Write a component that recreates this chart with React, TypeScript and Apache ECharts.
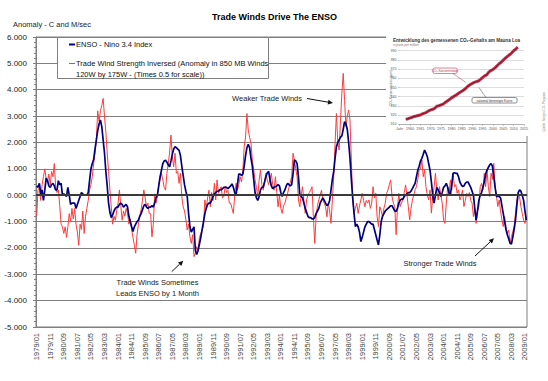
import React, { useEffect, useRef } from "react";
import * as echarts from "echarts";

const FONT = "'Liberation Sans', Arial, sans-serif";

const START_YEAR = 1979;
const MONTH_COUNT = 362;
const CATEGORIES: string[] = [];
for (let i = 0; i < MONTH_COUNT; i++) {
  const y = START_YEAR + Math.floor(i / 12);
  const m = (i % 12) + 1;
  CATEGORIES.push(`${y}/${m < 10 ? "0" + m : m}`);
}

// ENSO - Nino 3.4 Index, monthly 1979/01 .. 2009/02
const ENSO_NINO34 = [
  0.35, 0.3, 0.45, 0.05, 0.2, -0.2, 0.2, 0.65, 0.55, 0.35, 0.3, 0.4,
  0.45, 0.35, 0.2, 0.2, 0.55, 0.4, 0.45, 0.0, 0.05, 0.0, -0.05, 0.3,
  0.0, -0.35, -0.3, -0.3, -0.3, -0.5, -0.35, -0.2, -0.05, 0.1, 0.05, 0.0,
  0.0, 0.0, 0.1, 0.55, 1.0, 1.2, 1.35, 1.75, 2.1, 2.45, 2.7, 2.85,
  2.6, 2.1, 1.6, 0.9, 0.35, -0.3, -0.65, -0.85, -0.75, -0.6, -0.5, -0.45,
  -0.45, -0.35, -0.3, -0.35, -0.45, -0.4, -0.35, -0.45, -0.8, -1.0, -1.2, -1.38,
  -1.2, -1.1, -1.0, -0.95, -0.8, -0.7, -0.55, -0.4, -0.35, -0.45, -0.5, -0.45,
  -0.45, -0.4, -0.45, -0.3, -0.1, 0.0, 0.35, 0.7, 0.95, 1.2, 1.3, 1.33,
  1.25, 1.15, 1.08, 1.3, 1.55, 1.75, 1.84, 1.8, 1.75, 1.7, 1.5, 1.1,
  0.75, 0.4, 0.15, -0.05, -0.7, -1.2, -1.4, -1.3, -1.2, -2.1, -2.25, -2.1,
  -1.85, -1.6, -1.3, -1.0, -0.7, -0.5, -0.35, -0.3, -0.3, -0.2, -0.05, 0.05,
  0.1, 0.15, 0.15, 0.2, 0.2, 0.25, 0.3, 0.3, 0.3, 0.25, 0.3, 0.35,
  0.43, 0.3, 0.1, 0.0, 0.4, 0.8, 0.8, 0.75, 0.8, 1.1, 1.5, 1.8,
  1.93, 1.8, 1.4, 1.1, 0.6, 0.1, -0.1, -0.2, -0.05, 0.2, 0.3, 0.3,
  0.5, 0.7, 0.85, 0.9, 0.6, 0.35, 0.25, 0.3, 0.32, 0.35, 0.4, 0.35,
  0.1, -0.05, 0.1, 0.2, 0.35, 0.45, 0.4, 0.35, 0.4, 0.8, 1.34, 1.3,
  1.2, 0.7, 0.0, -0.05, -0.1, -0.3, -0.5, -0.65, -0.8, -0.85, -0.85, -0.9,
  -0.9, -0.85, -0.7, -0.6, -0.5, -0.3, -0.2, -0.1, -0.2, -0.3, -0.4, -0.35,
  -0.2, 0.2, 0.6, 0.9, 1.4, 1.84, 2.0, 2.1, 2.2, 2.25, 2.5, 2.79,
  2.7, 2.5, 2.0, 1.4, 0.6, -0.1, -0.7, -1.19, -1.1, -1.2, -1.4, -1.76,
  -1.6, -1.4, -1.2, -1.1, -1.0, -1.0, -1.05, -1.1, -1.1, -1.3, -1.5, -1.7,
  -1.89, -1.5, -1.0, -0.8, -0.7, -0.6, -0.55, -0.5, -0.45, -0.4, -0.4, -0.5,
  -0.6, -0.62, -0.5, -0.3, -0.2, -0.15, -0.15, -0.05, 0.0, 0.05, 0.1, 0.1,
  0.15, 0.25, 0.35, 0.45, 0.7, 0.95, 1.1, 1.3, 1.4, 1.55, 1.71, 1.6,
  1.46, 1.2, 0.95, 0.5, 0.0, -0.3, 0.0, 0.3, 0.2, 0.1, -0.05, 0.1,
  0.3, 0.35, 0.45, 0.3, 0.1, 0.0, 0.4, 0.83, 0.85, 0.83, 0.83, 0.7,
  0.5, 0.4, 0.33, 0.35, 0.45, 0.5, 0.5, 0.4, 0.3, 0.15, 0.0, -0.5,
  -0.95, -0.6, -0.2, 0.0, 0.1, 0.3, 0.5, 0.8, 0.95, 1.05, 1.15, 1.2,
  1.1, 0.7, 0.3, -0.05, -0.05, -0.05, -0.1, -0.4, -0.7, -1.0, -1.3, -1.5,
  -1.65, -1.82, -1.85, -1.6, -1.3, -0.95, -0.4, 0.1, 0.2, 0.15, 0.0, -0.2,
  -0.6, -0.95,
];

// Trade wind strength inversed (850 MB anomaly x 0.5), monthly 1979/01 .. 2009/02
const TRADE_WIND_INV = [
  -0.8, 0.2, 0.3, -0.2, 0.4, 0.7, 1.0, 0.6, 0.5, 0.8, 0.4, 0.9,
  0.7, 1.2, 0.3, 0.1, 0.2, -0.4, -1.1, -1.2, -1.45, -1.2, -1.6, -1.2,
  -0.7, -1.0, -0.5, -0.9, -0.5, -1.1, -1.4, -1.9, -1.1, -1.3, -0.6, -1.45,
  -0.8, -0.5, -0.2, 0.2, 0.4, 0.7, 1.2, 1.6, 2.1, 3.2, 2.8, 3.2,
  3.4, 3.67, 3.0, 2.4, 1.6, 0.9, 0.2, -0.45, -1.1, -0.8, -0.95, -0.6,
  -0.3, 0.2, -0.4, -0.95, -0.6, -0.8, -0.5, -0.7, -1.1, -0.9, -1.3, -1.6,
  -1.9, -2.2, -1.5, -1.1, -0.8, -0.55, -0.2, 0.2, -0.1, -0.45, -0.3, -0.7,
  -0.7, -1.58, -1.1, 0.05, -0.3, -0.05, 0.4, 0.6, 0.83, 0.58, 0.3, 0.19,
  0.83, 1.2, 1.6, 2.28, 1.46, 1.08, 1.59, 0.83, 0.9, 0.45, 0.83, -0.05,
  -0.44, -0.6, -0.94, -1.32, -1.1, -1.58, -1.83, -1.5, -2.33, -2.2, -1.95, -2.1,
  -1.6, -1.45, -1.3, -1.19, -0.18, -0.5, -0.1, 0.19, -0.44, 0.1, -0.2, 0.45,
  -0.18, 0.58, 0.07, 0.2, 0.32, -0.1, -0.05, 0.35, 0.1, 0.19, -0.3, -0.3,
  -0.5, -0.69, 0.0, 0.45, 0.19, 0.4, 0.7, 0.5, 0.95, 1.84, 2.2, 3.1,
  2.47, 2.2, 1.97, 1.33, 0.95, 0.58, 0.3, -0.05, 0.58, 0.95, 0.4, 0.19,
  0.5, 0.83, 0.58, 0.4, 0.6, 0.83, 0.4, 0.19, 0.7, 0.1, -0.44, 0.0,
  -0.5, -0.69, -0.4, -0.3, -0.1, 0.07, 0.3, 0.5, 0.7, 1.59, 1.33, 1.0,
  0.7, -0.18, -0.44, 0.0, 0.32, -0.2, -0.69, -0.18, 0.0, 0.1, 0.19, 0.32,
  -0.82, -1.83, -0.82, -0.4, -0.18, 0.0, 0.19, -0.18, -0.3, -0.44, -0.82, -0.3,
  -0.6, -1.07, -0.18, 0.7, 1.97, 3.1, 2.0, 1.71, 2.85, 3.86, 4.62, 3.6,
  2.6, 3.0, 3.23, 2.85, 1.33, -0.18, -0.69, -0.5, -0.3, -0.69, -0.4, -0.18,
  0.07, -0.2, -0.44, -0.2, -0.3, -0.18, -0.5, -0.3, 0.32, -0.1, 0.07, -0.82,
  -1.19, -0.44, -0.6, -0.82, -0.5, -0.3, 0.07, 0.2, 0.4, 0.58, -0.05, -0.3,
  -0.44, -1.5, -0.5, 0.07, -0.43, -0.3, -0.18, 0.1, 0.39, 0.0, -0.43, -0.94,
  -0.5, -0.18, 0.0, 0.2, 0.32, 0.6, 0.95, 1.0, 1.33, 0.7, 0.95, 0.32,
  0.0, -0.18, 0.2, -0.68, -0.05, 0.3, 0.83, 0.2, -0.18, 0.32, 0.0, -0.3,
  -0.94, -1.07, -0.3, 0.32, 0.0, 0.58, 0.2, 0.83, 0.32, 0.4, 0.07, 0.2,
  -0.18, -0.05, 0.2, -0.43, -0.2, 0.07, -0.05, 0.1, -0.2, -0.3, -0.81, -0.5,
  -1.07, -0.6, -0.43, 0.32, 0.45, 0.2, 0.83, 0.32, 0.95, 0.32, -0.05, 0.83,
  0.6, 1.21, 0.32, -0.05, -0.43, -0.18, -0.6, -0.94, -1.19, -0.81, -1.2, -1.45,
  -1.32, -1.83, -1.57, -1.4, -1.19, -0.68, -0.18, 0.07, -0.05, -0.43, -0.7, -0.94,
  -1.07, -0.81,
];

// Inset: Mauna Loa CO2 (annual mean, ppm)
const CO2_YEARS = [
  1958, 1959, 1960, 1961, 1962, 1963, 1964, 1965, 1966, 1967, 1968, 1969,
  1970, 1971, 1972, 1973, 1974, 1975, 1976, 1977, 1978, 1979, 1980, 1981,
  1982, 1983, 1984, 1985, 1986, 1987, 1988, 1989, 1990, 1991, 1992, 1993,
  1994, 1995, 1996, 1997, 1998, 1999, 2000, 2001, 2002, 2003, 2004, 2005,
  2006, 2007, 2008, 2009, 2010, 2011, 2012,
];
const CO2_PPM = [
  315.3, 316.0, 316.9, 317.6, 318.5, 319.0, 319.6, 320.0, 321.4, 322.2, 323.0, 324.6,
  325.7, 326.3, 327.5, 329.7, 330.2, 331.1, 332.0, 333.8, 335.4, 336.8, 338.7, 340.1,
  341.4, 343.0, 344.6, 346.0, 347.4, 349.2, 351.6, 353.1, 354.4, 355.6, 356.4, 357.1,
  358.8, 360.8, 362.6, 363.7, 366.7, 368.4, 369.6, 371.3, 373.5, 375.8, 377.5, 379.8,
  381.9, 383.8, 385.6, 387.4, 389.9, 391.6, 393.9,
];

const BLUE = "#000080";
const RED = "#ff3b3b";
const GRID_GREY = "#7f7f7f";

function txt(x: number, y: number, text: string, extra: any = {}, z = 20) {
  return {
    type: "text",
    z,
    x,
    y,
    silent: true,
    style: {
      text,
      fontSize: 7.5,
      fontFamily: FONT,
      fill: "#222",
      verticalAlign: "middle",
      textAlign: "left",
      ...extra,
    },
  };
}

function arrow(x1: number, y1: number, x2: number, y2: number) {
  const dx = x2 - x1;
  const dy = y2 - y1;
  const len = Math.sqrt(dx * dx + dy * dy);
  const ux = dx / len;
  const uy = dy / len;
  const hl = 5;
  const hw = 2.4;
  const bx = x2 - ux * hl;
  const by = y2 - uy * hl;
  return [
    {
      type: "line",
      z: 20,
      silent: true,
      shape: { x1, y1, x2: bx, y2: by },
      style: { stroke: "#111", lineWidth: 1 },
    },
    {
      type: "polygon",
      z: 20,
      silent: true,
      shape: {
        points: [
          [x2, y2],
          [bx - uy * hw, by + ux * hw],
          [bx + uy * hw, by - ux * hw],
        ],
      },
      style: { fill: "#111" },
    },
  ];
}

export default function App() {
  const ref = useRef<HTMLDivElement>(null);

  useEffect(() => {
    if (!ref.current) return;
    const chart = echarts.init(ref.current, undefined, { renderer: "svg" });

    const co2Data = CO2_YEARS.map((y, i) => [y, CO2_PPM[i]]);

    const option: any = {
      animation: false,
      backgroundColor: "#ffffff",
      title: {
        text: "Trade Winds Drive The ENSO",
        left: 207,
        top: 7,
        textStyle: { fontFamily: FONT, fontSize: 9, fontWeight: "bold", color: "#000" },
      },
      grid: [
        { left: 36, right: 21, top: 37, bottom: 54, show: true, borderColor: GRID_GREY, borderWidth: 1 },
        { left: 399.6, right: 24, top: 50.7, bottom: 256.7 },
      ],
      xAxis: [
        {
          type: "category",
          gridIndex: 0,
          data: CATEGORIES,
          boundaryGap: true,
          axisLine: { show: true, lineStyle: { color: GRID_GREY } },
          axisTick: { show: false },
          splitLine: { show: false },
          axisLabel: {
            interval: 9,
            rotate: 90,
            fontSize: 7.5,
            color: "#444",
            margin: 6,
            fontFamily: FONT,
          },
        },
        {
          type: "value",
          gridIndex: 1,
          min: 1955,
          max: 2015,
          interval: 5,
          z: 3,
          axisLine: { show: true, lineStyle: { color: "#888", width: 0.5 } },
          axisTick: { show: true, length: 1.5, lineStyle: { color: "#888", width: 0.5 } },
          splitLine: { show: false },
          axisLabel: {
            fontSize: 3.6,
            color: "#555",
            margin: 2.5,
            fontFamily: FONT,
            formatter: (v: number) => (v === 1955 ? "Jahr" : String(v)),
          },
        },
      ],
      yAxis: [
        {
          type: "value",
          gridIndex: 0,
          min: -5,
          max: 6,
          interval: 1,
          axisLine: { show: true, lineStyle: { color: GRID_GREY } },
          axisTick: { show: true, length: 3, lineStyle: { color: GRID_GREY } },
          minorTick: { show: true, splitNumber: 5, length: 2, lineStyle: { color: GRID_GREY } },
          splitLine: { show: true, lineStyle: { color: GRID_GREY, width: 1 } },
          axisLabel: {
            fontSize: 8,
            color: "#222",
            margin: 9,
            fontFamily: FONT,
            formatter: (v: number) => v.toFixed(3),
          },
        },
        {
          type: "value",
          gridIndex: 1,
          min: 310,
          max: 390,
          interval: 10,
          z: 3,
          axisLine: { show: false },
          axisTick: { show: true, length: 1.5, lineStyle: { color: "#888", width: 0.5 } },
          splitLine: { show: true, lineStyle: { color: "#bbb", width: 0.5 } },
          axisLabel: { fontSize: 3.6, color: "#555", margin: 3, fontFamily: FONT },
        },
      ],
      series: [
        {
          name: "Trade Wind Strength Inversed",
          type: "line",
          xAxisIndex: 0,
          yAxisIndex: 0,
          data: TRADE_WIND_INV,
          showSymbol: false,
          symbol: "none",
          lineStyle: { color: RED, width: 1 },
          z: 2,
          markLine: {
            silent: true,
            symbol: "none",
            label: { show: false },
            lineStyle: { color: "#3a3a3a", width: 2, type: "solid" },
            data: [{ yAxis: 0 }],
          },
        },
        {
          name: "ENSO - Nino 3.4 Index",
          type: "line",
          xAxisIndex: 0,
          yAxisIndex: 0,
          data: ENSO_NINO34,
          showSymbol: false,
          symbol: "none",
          lineStyle: { color: BLUE, width: 1.7 },
          z: 3,
        },
        {
          name: "CO2",
          type: "line",
          xAxisIndex: 1,
          yAxisIndex: 1,
          data: co2Data,
          showSymbol: false,
          symbol: "none",
          clip: false,
          lineStyle: { color: "#c8304a", width: 3 },
          z: 6,
        },
        {
          name: "CO2 trend",
          type: "line",
          xAxisIndex: 1,
          yAxisIndex: 1,
          data: co2Data,
          showSymbol: false,
          symbol: "none",
          clip: false,
          lineStyle: { color: "#4a1020", width: 0.7 },
          z: 7,
        },
      ],
      graphic: {
        elements: [
          // inset background (pasted image area)
          {
            type: "rect",
            z: 1,
            silent: true,
            shape: { x: 386, y: 31, width: 162, height: 105 },
            style: { fill: "#ffffff" },
          },
          txt(393, 40, "Entwicklung des gemessenen CO\u2082-Gehalts am Mauna Loa", { fontSize: 4.6, fontWeight: "bold", fill: "#333" }),
          txt(393, 44.3, "in parts per million", { fontSize: 3.2, fill: "#777" }),
          {
            type: "text",
            z: 20,
            x: 391,
            y: 88,
            rotation: Math.PI / 2,
            silent: true,
            style: { text: "CO\u2082-Konzentration (ppm)", fontSize: 3.2, fontFamily: FONT, fill: "#666", textAlign: "center", verticalAlign: "middle" },
          },
          {
            type: "text",
            z: 20,
            x: 544,
            y: 112,
            rotation: Math.PI / 2,
            silent: true,
            style: { text: "Quelle: Scripps CO\u2082 Program", fontSize: 3, fontFamily: FONT, fill: "#888", textAlign: "center", verticalAlign: "middle" },
          },
          {
            type: "rect",
            z: 20,
            silent: true,
            shape: { x: 433, y: 68, width: 24, height: 5.5, r: 1.5 },
            style: { fill: "#fff", stroke: "#c8304a", lineWidth: 0.6 },
          },
          txt(445, 70.8, "CO\u2082-Konzentration", { fontSize: 3.2, fill: "#c8304a", textAlign: "center" }, 21),
          {
            type: "line",
            z: 20,
            silent: true,
            shape: { x1: 453, y1: 73.5, x2: 466, y2: 82.5 },
            style: { stroke: "#c8304a", lineWidth: 0.5 },
          },
          {
            type: "rect",
            z: 20,
            silent: true,
            shape: { x: 472, y: 97.5, width: 45, height: 5.5, r: 1.5 },
            style: { fill: "#fff", stroke: "#444", lineWidth: 0.6 },
          },
          txt(494.5, 100.3, "saisonal bereinigte Kurve", { fontSize: 3.2, fill: "#333", textAlign: "center" }, 21),
          {
            type: "line",
            z: 20,
            silent: true,
            shape: { x1: 479, y1: 87.5, x2: 486, y2: 97.5 },
            style: { stroke: "#444", lineWidth: 0.5 },
          },
          // y axis name
          txt(13, 24.5, "Anomaly - C and M/sec", { fill: "#222" }),
          // legend box
          {
            type: "rect",
            z: 10,
            silent: true,
            shape: { x: 57.5, y: 37.5, width: 211, height: 41 },
            style: { fill: "#ffffff", stroke: "#808080", lineWidth: 1 },
          },
          {
            type: "line",
            z: 11,
            silent: true,
            shape: { x1: 69, y1: 44.5, x2: 75, y2: 44.5 },
            style: { stroke: BLUE, lineWidth: 2 },
          },
          txt(76, 44.5, "ENSO - Nino 3.4 Index", { fill: "#111" }),
          {
            type: "line",
            z: 11,
            silent: true,
            shape: { x1: 69, y1: 63.5, x2: 75, y2: 63.5 },
            style: { stroke: RED, lineWidth: 1 },
          },
          txt(76, 63.5, "Trade Wind Strength Inversed (Anomaly in 850 MB Winds", { fill: "#111" }),
          txt(76, 74, "120W by 175W - (Times 0.5 for scale))", { fill: "#111" }),
          // annotations
          txt(302, 98.5, "Weaker Trade Winds", { textAlign: "right" }),
          ...arrow(307, 98.5, 333, 103),
          txt(157.5, 282.7, "Trade Winds Sometimes", { textAlign: "center" }),
          txt(157.5, 293.3, "Leads ENSO by 1 Month", { textAlign: "center" }),
          ...arrow(171.7, 271.7, 183.3, 260.7),
          txt(440, 263.3, "Stronger Trade Winds", { textAlign: "center" }),
          ...arrow(475, 256, 494, 238.3),
        ],
      },
    };

    chart.setOption(option);
    return () => {
      chart.dispose();
    };
  }, []);

  return (
    <div
      ref={ref}
      style={{ position: "fixed", left: 0, top: 0, width: 548, height: 381, background: "#fff" }}
    />
  );
}
